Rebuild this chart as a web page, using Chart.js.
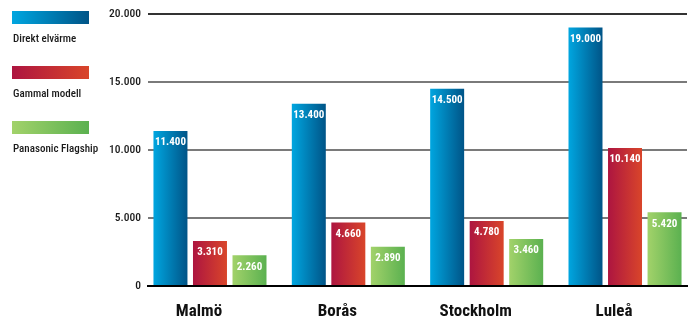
<!DOCTYPE html>
<html>
<head>
<meta charset="utf-8">
<script src="https://cdn.jsdelivr.net/npm/chart.js@4"></script>
<style>
  html, body { margin: 0; padding: 0; background: #fff; }
  #wrap { width: 696px; height: 316px; }
</style>
</head>
<body>
<div id="wrap"><canvas id="heatChart"></canvas></div>
<script>
const categories = ['Malmö', 'Borås', 'Stockholm', 'Luleå'];
const seriesNames = ['Direkt elvärme', 'Gammal modell', 'Panasonic Flagship'];
const direktElvarme = [11400, 13400, 14500, 19000];
const gammalModell = [3310, 4660, 4780, 10140];
const panasonicFlagship = [2260, 2890, 3460, 5420];
const yTicks = [0, 5000, 10000, 15000, 20000];

const FONT = "'Roboto Condensed', 'DejaVu Sans Condensed', sans-serif";
const CAT_PCT = 0.857;
const BAR_PCT = 0.86;

// left -> right gradient stops for each series
const gradStops = [
  ['#00a6e0', '#005487'],
  ['#ad1540', '#d9452a'],
  ['#a2d26a', '#5bb150']
];

function fmt(n) {
  return String(n).replace(/\B(?=(\d{3})+(?!\d))/g, '.');
}

function barFill(c) {
  const chart = c.chart;
  const xs = chart.scales.x;
  const stops = gradStops[c.datasetIndex];
  if (!xs || !chart.chartArea) return stops[0];
  const catW = xs.getPixelForValue(1) - xs.getPixelForValue(0);
  const slot = catW * CAT_PCT / 3;
  const center = xs.getPixelForValue(c.dataIndex);
  const left = center - catW * CAT_PCT / 2 + slot * c.datasetIndex + slot * (1 - BAR_PCT) / 2;
  const w = slot * BAR_PCT;
  const g = chart.ctx.createLinearGradient(left, 0, left + w, 0);
  g.addColorStop(0, stops[0]);
  g.addColorStop(1, stops[1]);
  return g;
}

const valueLabels = {
  id: 'valueLabels',
  afterDatasetsDraw(chart) {
    const ctx = chart.ctx;
    ctx.save();
    ctx.fillStyle = '#ffffff';
    ctx.font = 'bold 11px ' + FONT;
    ctx.textAlign = 'center';
    ctx.textBaseline = 'top';
    chart.data.datasets.forEach((ds, i) => {
      chart.getDatasetMeta(i).data.forEach((bar, j) => {
        ctx.fillText(fmt(ds.data[j].y), bar.x, bar.y + 6);
      });
    });
    ctx.restore();
  }
};

const sideLegend = {
  id: 'sideLegend',
  afterDraw(chart) {
    const ctx = chart.ctx;
    ctx.save();
    seriesNames.forEach((name, i) => {
      const top = 11 + i * 55;
      const g = ctx.createLinearGradient(12, 0, 89, 0);
      g.addColorStop(0, gradStops[i][0]);
      g.addColorStop(1, gradStops[i][1]);
      ctx.fillStyle = g;
      ctx.fillRect(12, top, 77, 13);
      ctx.fillStyle = '#1a1a1a';
      ctx.font = '500 11px ' + FONT;
      ctx.textAlign = 'left';
      ctx.textBaseline = 'alphabetic';
      ctx.fillText(name, 13, top + 31);
    });
    ctx.restore();
  }
};

const toPoints = arr => arr.map((v, i) => ({ x: i, y: v }));

const ctx = document.getElementById('heatChart');

new Chart(ctx, {
  type: 'bar',
  data: {
    datasets: [
      { label: seriesNames[0], data: toPoints(direktElvarme) },
      { label: seriesNames[1], data: toPoints(gammalModell) },
      { label: seriesNames[2], data: toPoints(panasonicFlagship) }
    ].map(d => Object.assign(d, {
      backgroundColor: barFill,
      borderWidth: 0,
      categoryPercentage: CAT_PCT,
      barPercentage: BAR_PCT
    }))
  },
  options: {
    responsive: true,
    maintainAspectRatio: false,
    animation: false,
    layout: { padding: { top: 12, right: 9, left: 0, bottom: 0 } },
    plugins: {
      legend: { display: false },
      tooltip: { enabled: false }
    },
    scales: {
      x: {
        type: 'linear',
        offset: false,
        min: -0.448,
        max: 3.448,
        afterBuildTicks(s) { s.ticks = categories.map((c, i) => ({ value: i })); },
        grid: { display: false, offset: false },
        border: { display: true, color: '#000', width: 2 },
        ticks: {
          color: '#111',
          font: { family: FONT, size: 17, weight: 'bold' },
          padding: 8,
          labelOffset: -11,
          maxRotation: 0,
          autoSkip: false,
          callback: v => categories[v]
        },
        afterFit(s) { s.height = 30; }
      },
      y: {
        min: 0,
        max: 20000,
        afterBuildTicks(s) { s.ticks = yTicks.map(v => ({ value: v })); },
        border: { display: false },
        grid: {
          drawTicks: false,
          lineWidth: 2,
          color: c => (c.tick.value === 20000 ? '#333' : c.tick.value === 0 ? '#000' : '#7a7a7a')
        },
        ticks: {
          color: '#1a1a1a',
          font: { family: FONT, size: 11.5, weight: '500' },
          padding: 7,
          callback: v => fmt(v)
        },
        afterFit(s) { s.width = 148; }
      }
    }
  },
  plugins: [valueLabels, sideLegend]
});
</script>
</body>
</html>
